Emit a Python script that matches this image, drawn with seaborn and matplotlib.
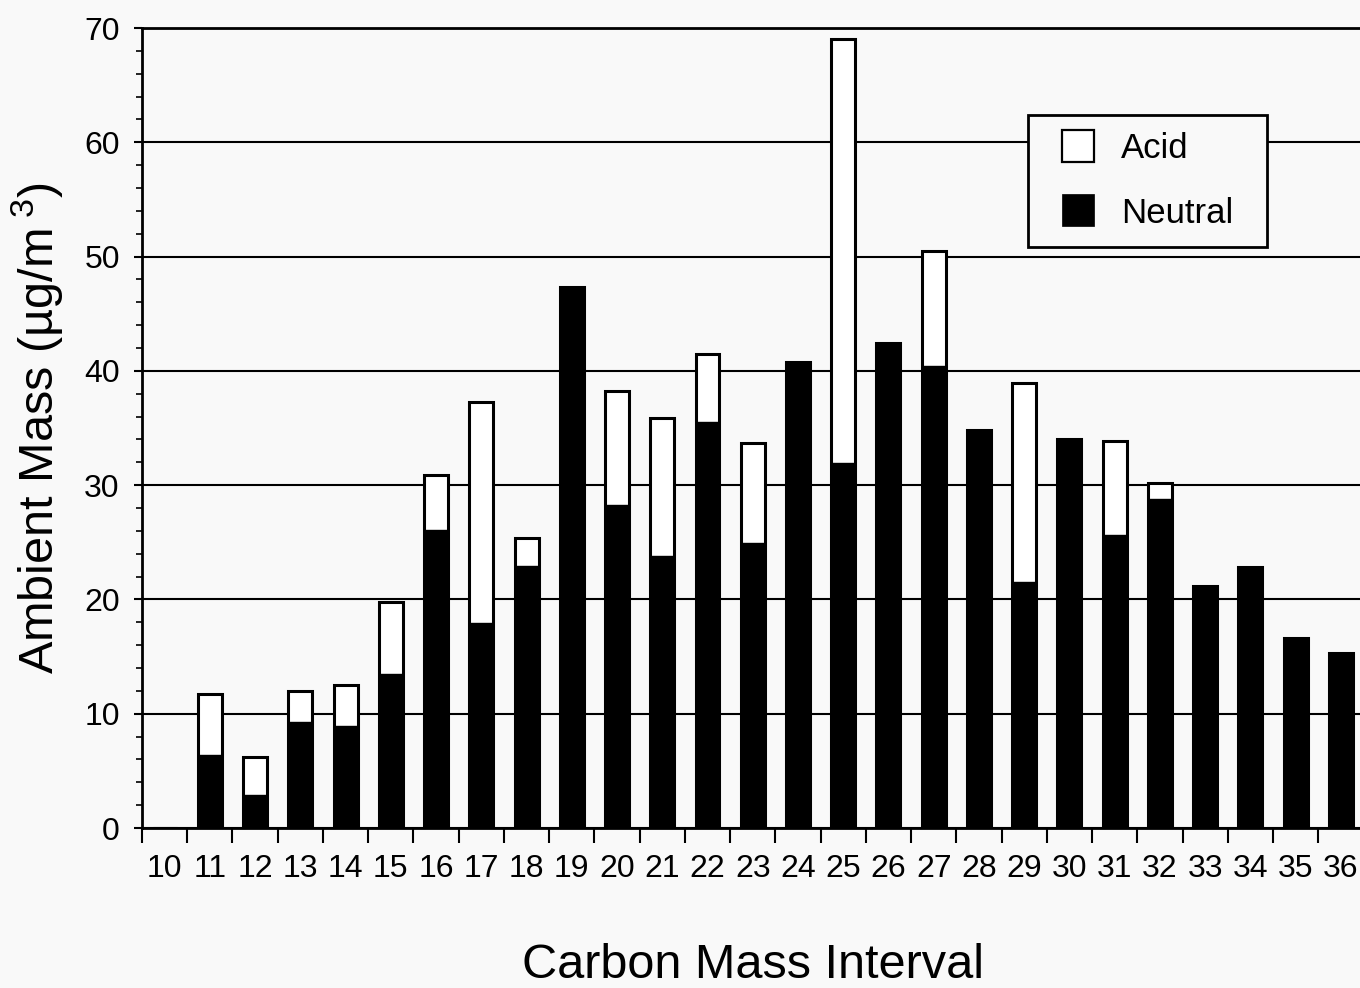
import matplotlib
matplotlib.use("Agg")
import matplotlib.pyplot as plt
import seaborn as sns
import numpy as np
import pandas as pd
from matplotlib.ticker import MultipleLocator, FixedLocator
from matplotlib.lines import Line2D

categories = [str(c) for c in range(10, 37)]
neutral = [0, 6.4, 2.9, 9.3, 8.9, 13.5, 26.1, 17.9, 22.9, 47.3, 28.3, 23.8, 35.5, 24.9,
           40.8, 31.9, 42.4, 40.4, 34.8, 21.5, 34.0, 25.6, 28.8, 21.2, 22.8, 16.6, 15.3]
acid = [0, 5.3, 3.3, 2.7, 3.6, 6.3, 4.8, 19.4, 2.5, 0, 9.9, 12.1, 6.0, 8.8,
        0, 37.1, 0, 10.1, 0, 17.4, 0, 8.3, 1.4, 0, 0, 0, 0]
total = [n + a for n, a in zip(neutral, acid)]

df = pd.DataFrame({"interval": categories, "neutral": neutral, "total": total})

sns.set_style("white")
plt.rcParams['font.family'] = ['Liberation Sans', 'DejaVu Sans']
plt.rcParams['mathtext.fontset'] = 'custom'
plt.rcParams['mathtext.rm'] = 'Liberation Sans'
plt.rcParams['mathtext.it'] = 'Liberation Sans'
for k in ['text.color', 'axes.labelcolor', 'xtick.color', 'ytick.color', 'axes.edgecolor']:
    plt.rcParams[k] = 'black'

bg = '#f9f9f9'
fig = plt.figure(figsize=(13.6, 9.88), dpi=100, facecolor=bg)
W, H = 1360, 988
step = 45.24
left, bottom, top = 142, 828, 28
right = left + 27 * step
ax = fig.add_axes([left / W, 1 - bottom / H, (right - left) / W, (bottom - top) / H])
ax.set_facecolor(bg)

sns.barplot(data=df, x="interval", y="total", order=categories, color="white",
            edgecolor="black", linewidth=2.2, width=0.53, saturation=1, ax=ax, zorder=3)
sns.barplot(data=df, x="interval", y="neutral", order=categories, color="black",
            edgecolor="black", linewidth=1.0, width=0.53, saturation=1, ax=ax, zorder=4)

ax.set_xlim(-0.5, len(categories) - 0.5)
ax.set_ylim(0, 70)
ax.yaxis.set_major_locator(MultipleLocator(10))
ax.yaxis.set_minor_locator(MultipleLocator(2))
ax.xaxis.set_minor_locator(FixedLocator(np.arange(-0.5, len(categories), 1.0)))
ax.tick_params(axis='x', which='major', length=0, pad=19, labelsize=23)
ax.tick_params(axis='x', which='minor', length=11, width=1.5, direction='out', bottom=True)
ax.tick_params(axis='y', which='major', length=6, width=1.5, direction='out', left=True, pad=10,
               labelsize=23)
ax.tick_params(axis='y', which='minor', length=4.3, width=1.2, direction='out', left=True)

ax.grid(axis='y', which='major', color='black', linewidth=1.5)
ax.set_axisbelow(True)
for s in ['left', 'bottom', 'top', 'right']:
    ax.spines[s].set_visible(True)
    ax.spines[s].set_color('black')
    ax.spines[s].set_linewidth(2)

ax.set_xlabel("Carbon Mass Interval", fontsize=35, labelpad=42)
ax.set_ylabel("Ambient Mass (µg/m$^{\\ 3}$)", fontsize=35, labelpad=14)

handles = [Line2D([], [], linestyle='none', marker='s', markersize=22.5, markerfacecolor='white',
                  markeredgecolor='black', markeredgewidth=1.6, label='Acid'),
           Line2D([], [], linestyle='none', marker='s', markersize=23.5, markerfacecolor='black',
                  markeredgecolor='black', markeredgewidth=0.5, label='Neutral')]
axw = right - left
bx0 = (1028 - left) / axw
bw = 239 / axw
by0 = (bottom - 247) / 800
bh = 132 / 800
leg = ax.legend(handles=handles, loc='upper left', bbox_to_anchor=(bx0, by0, bw, bh),
                mode='expand', borderaxespad=0, fontsize=25, frameon=True, fancybox=False,
                handlelength=1.9, handletextpad=0.29, labelspacing=0.9, borderpad=0.5)
leg.get_frame().set_edgecolor('black')
leg.get_frame().set_linewidth(2)
leg.get_frame().set_facecolor(bg)
leg.get_frame().set_alpha(1)
leg.set_zorder(10)

fig.savefig("out.png", dpi=100, facecolor=bg)
